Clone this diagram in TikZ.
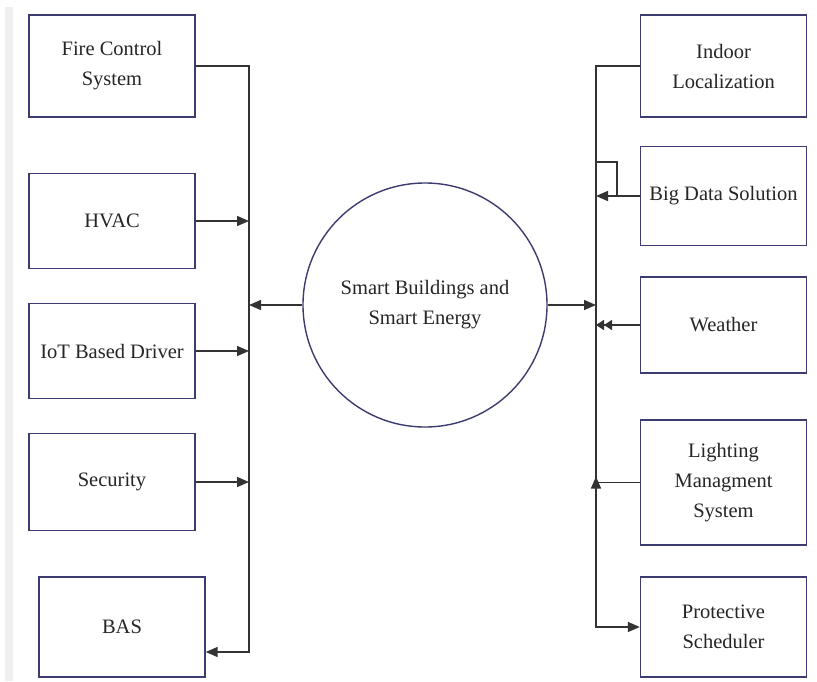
\documentclass[tikz,border=0pt]{standalone}
\usepackage{fontspec}
\setmainfont{Liberation Serif}
\usetikzlibrary{arrows.meta,calc}
\definecolor{boxc}{HTML}{3C3C70}
\definecolor{linec}{HTML}{333333}
\definecolor{txtc}{HTML}{262626}
\definecolor{stripc}{HTML}{EFEFEF}
\begin{document}
\begin{tikzpicture}[x=1pt,y=-1pt,
  arr/.tip={Triangle[length=12pt,width=10pt]},
  blk/.style={draw=boxc,line width=1.4pt,fill=white,minimum width=166pt,
    align=center,text=txtc,font=\fontsize{20.5}{30}\selectfont,inner sep=0pt},
  conn/.style={draw=linec,line width=1.5pt},
  hub/.style={circle,draw=boxc,line width=1.4pt,minimum size=244pt,
    align=center,text=txtc,font=\fontsize{20.5}{30}\selectfont,inner sep=0pt}]
\useasboundingbox (0,0) rectangle (817,681);
\fill[white] (0,0) rectangle (817,681);
\fill[stripc] (5,7) rectangle (13,681);
% left boxes
\node[blk,minimum height=102pt] (fire) at (112,66) {Fire Control\\System};
\node[blk,minimum height=95pt] (hvac) at (112,221) {HVAC};
\node[blk,minimum height=95pt] (iot) at (112,351) {IoT Based Driver};
\node[blk,minimum height=97pt] (sec) at (112,482) {Security};
\node[blk,minimum height=100pt] (bas) at (122,627) {BAS};
% right boxes
\node[blk,minimum height=102pt] (indoor) at (723.5,66) {Indoor\\Localization};
\node[blk,minimum height=99pt] (big) at (723.5,196) {Big Data Solution};
\node[blk,minimum height=96pt] (weather) at (723.5,325) {Weather};
\node[blk,minimum height=125pt] (light) at (723.5,482.5) {Lighting\\Managment\\System};
\node[blk,minimum height=100pt] (prot) at (723.5,627) {Protective\\Scheduler};
% hub
\node[hub] (c) at (425,305) {Smart Buildings and\\Smart Energy};
% bus coordinates
\coordinate (lb) at (249,0);
\coordinate (lbot) at (249,652);
\coordinate (rb) at (596,0);
\coordinate (brk) at (617,162);
% left side
\draw[conn,-arr] (fire.east) -- (fire.east -| lb) -- (lbot) -- (bas.east |- lbot);
\draw[conn,-arr] (hvac.east) -- (hvac.east -| lb);
\draw[conn,-arr] (iot.east) -- (iot.east -| lb);
\draw[conn,-arr] (sec.east) -- (sec.east -| lb);
\draw[conn,-arr] (c.west) -- (c.west -| lb);
% right side
\draw[conn,-arr] (indoor.west) -- (indoor.west -| rb) -- (prot.west -| rb) -- (prot.west);
\draw[conn,-arr] (c.east) -- (c.east -| rb);
\draw[conn,-arr] (big.west) -- (big.west -| rb);
\draw[conn] (big.west -| brk) -- (brk) -- (brk -| rb);
\draw[conn,-{Triangle[length=8pt,width=10pt]Triangle[length=8pt,width=10pt]}] (weather.west) -- (weather.west -| rb);
\draw[conn] (light.west) -- (light.west -| rb);
\draw[conn,-arr] ($(light.west -| rb)+(0,5)$) -- ($(light.west -| rb)+(0,-6)$);
\end{tikzpicture}
\end{document}
